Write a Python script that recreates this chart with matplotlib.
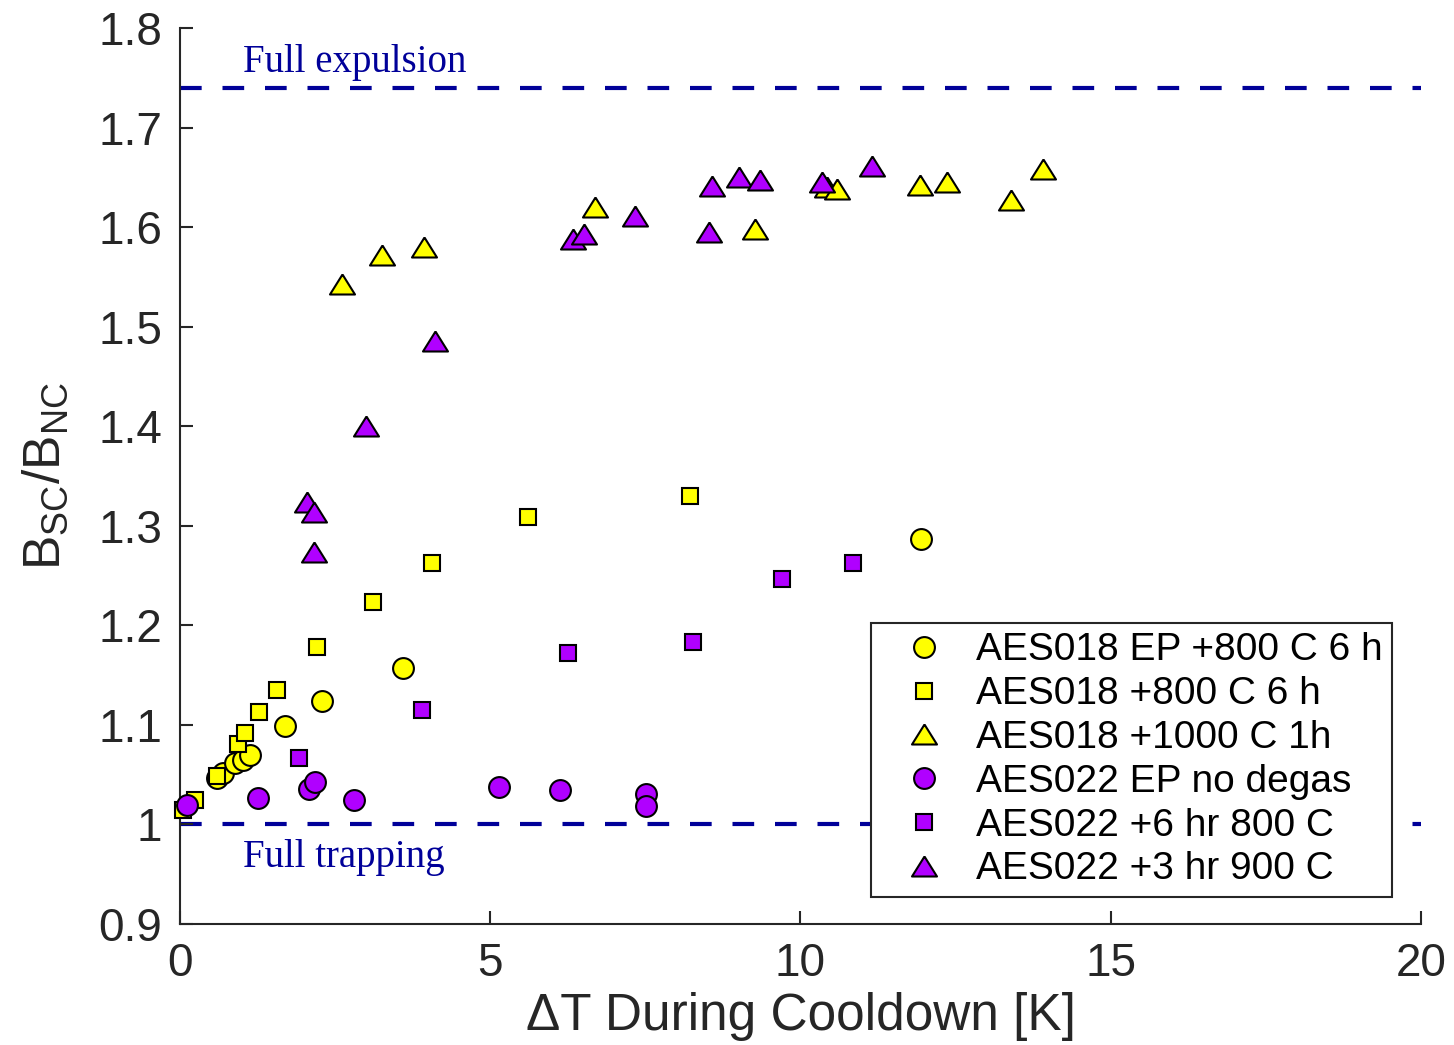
import matplotlib
matplotlib.use('Agg')
import matplotlib.pyplot as plt
from matplotlib.ticker import FuncFormatter

matplotlib.rcParams['font.family'] = 'Liberation Sans'
matplotlib.rcParams['mathtext.fontset'] = 'custom'
matplotlib.rcParams['mathtext.rm'] = 'Liberation Sans'
matplotlib.rcParams['mathtext.it'] = 'Liberation Sans'

### data
ep018_x = [0.59, 0.70, 0.89, 1.02, 1.13, 1.69, 2.29, 3.59, 11.94]
ep018_y = [1.047, 1.052, 1.062, 1.065, 1.070, 1.099, 1.124, 1.157, 1.287]

sq018_x = [0.05, 0.24, 0.60, 0.93, 1.05, 1.27, 1.56, 2.21, 3.11, 4.06, 5.61, 8.22]
sq018_y = [1.015, 1.025, 1.049, 1.081, 1.092, 1.113, 1.135, 1.178, 1.223, 1.263, 1.309, 1.330]

tri018_x = [2.61, 3.25, 3.93, 6.69, 9.27, 10.43, 10.59, 11.93, 12.36, 13.39, 13.91]
tri018_y = [1.543, 1.572, 1.580, 1.620, 1.598, 1.640, 1.638, 1.642, 1.645, 1.627, 1.658]

ep022_x = [0.11, 1.26, 2.08, 2.17, 2.80, 5.14, 6.12, 7.51, 7.51]
ep022_y = [1.020, 1.027, 1.036, 1.043, 1.025, 1.038, 1.035, 1.031, 1.019]

sq022_x = [1.92, 3.90, 6.25, 8.27, 9.70, 10.85]
sq022_y = [1.067, 1.115, 1.172, 1.183, 1.247, 1.263]

tri022_x = [2.05, 2.16, 2.16, 3.00, 4.11, 6.33, 6.51, 7.33, 8.53, 8.57, 9.01, 9.35, 10.35, 11.15]
tri022_y = [1.324, 1.314, 1.274, 1.400, 1.486, 1.588, 1.593, 1.611, 1.595, 1.641, 1.650, 1.647, 1.645, 1.661]

labels = ['AES018 EP +800 C 6 h', 'AES018 +800 C 6 h', 'AES018 +1000 C 1h',
          'AES022 EP no degas', 'AES022 +6 hr 800 C', 'AES022 +3 hr 900 C']

expulsion = 1.74
trapping = 1.0

yellow = '#FFFF00'
purple = '#B000FF'
navy = '#000099'
gray = '#262626'

# wide matlab-ish triangle
tri = [(0, 0.8), (-1, -0.8), (1, -0.8), (0, 0.8)]

fig = plt.figure(figsize=(14.54, 10.45), dpi=100)
ax = fig.add_axes([0.1238, 0.1158, 0.8535, 0.8574])

ax.plot([0, 20], [expulsion, expulsion], color=navy, lw=3, linestyle=(0, (5.2, 5.0)), zorder=1)
ax.plot([0, 20], [trapping, trapping], color=navy, lw=3, linestyle=(0, (5.2, 5.0)), zorder=1)

kw = dict(linestyle='none', markeredgecolor='k', markeredgewidth=1.5, clip_on=False, zorder=3)
ax.plot(ep018_x, ep018_y, marker='o', ms=15, mfc=yellow, label=labels[0], **kw)
ax.plot(sq018_x, sq018_y, marker='s', ms=11.5, mfc=yellow, label=labels[1], **kw)
ax.plot(tri018_x, tri018_y, marker=tri, ms=18, mfc=yellow, label=labels[2], **kw)
ax.plot(ep022_x, ep022_y, marker='o', ms=15, mfc=purple, label=labels[3], **kw)
ax.plot(sq022_x, sq022_y, marker='s', ms=11.5, mfc=purple, label=labels[4], **kw)
ax.plot(tri022_x, tri022_y, marker=tri, ms=18, mfc=purple, label=labels[5], **kw)

ax.text(1.02, 1.756, 'Full expulsion', family='Liberation Serif', fontsize=28, color=navy)
ax.text(1.02, 0.957, 'Full trapping', family='Liberation Serif', fontsize=28, color=navy)

ax.set_xlim(0, 20)
ax.set_ylim(0.9, 1.8)
ax.set_xticks([0, 5, 10, 15, 20])
ax.set_yticks([0.9, 1.0, 1.1, 1.2, 1.3, 1.4, 1.5, 1.6, 1.7, 1.8])
ax.yaxis.set_major_formatter(FuncFormatter(lambda v, p: '%g' % round(v, 2)))

for s in ['top', 'right']:
    ax.spines[s].set_visible(False)
for s in ['left', 'bottom']:
    ax.spines[s].set_linewidth(1.5)
    ax.spines[s].set_color(gray)

ax.tick_params(axis='both', direction='in', length=9.5, width=1.5, color=gray,
               labelsize=33, labelcolor=gray, pad=13)

ax.set_xlabel('ΔT During Cooldown [K]', fontsize=37, color=gray, labelpad=4)
ax.set_ylabel(r'B$_{\mathregular{SC}}$/B$_{\mathregular{NC}}$', fontsize=37, color=gray, labelpad=20)

leg = ax.legend(loc='lower right', bbox_to_anchor=(0.977, 0.030), fontsize=28,
                handlelength=2.2, handletextpad=0.25, borderpad=0.25, labelspacing=0.2,
                borderaxespad=0, fancybox=False, framealpha=1, edgecolor=gray)
leg.get_frame().set_linewidth(1.5)

plt.savefig('out.png', dpi=100)
